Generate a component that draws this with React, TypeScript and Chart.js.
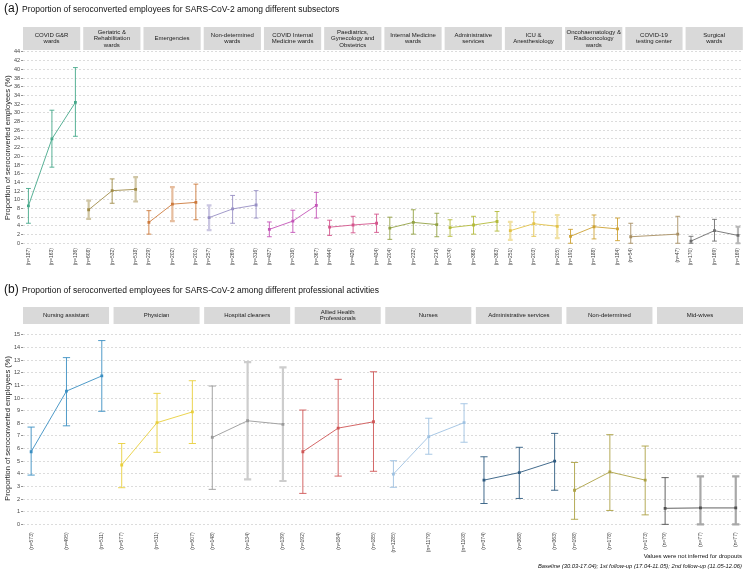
import React, { useEffect, useRef } from 'react';
import { Chart, registerables } from 'chart.js';

Chart.register(...registerables);

const FONT = '"Liberation Sans", Arial, Helvetica, sans-serif';

// ---------- Panel (a): subsectors ----------
const subsectorLabels = [
  'COVID G&R\nwards',
  'Geriatric &\nRehabilitation\nwards',
  'Emergencies',
  'Non-determined\nwards',
  'COVID Internal\nMedicine wards',
  'Paediatrics,\nGynecology and\nObstetrics',
  'Internal Medicine\nwards',
  'Administrative\nservices',
  'ICU &\nAnesthesiology',
  'Oncohaematology &\nRadiooncology\nwards',
  'COVID-19\ntesting center',
  'Surgical\nwards',
];
const subsectorColors = [
  '#45a88a', '#a08c4a', '#cd7a3c', '#978fc4', '#c455b8', '#d4558c',
  '#93a244', '#b3ba3a', '#e2c247', '#cda233', '#a88f62', '#6e6e6e',
];
const subsectorValues = [
  [8.6, 24.0, 32.4],
  [7.7, 12.1, 12.4],
  [4.8, 9.0, 9.4],
  [5.9, 7.9, 8.8],
  [3.2, 5.1, 8.7],
  [3.7, 4.2, 4.6],
  [3.5, 4.8, 4.3],
  [3.6, 4.2, 5.0],
  [2.9, 4.5, 3.9],
  [1.6, 3.8, 3.3],
  [1.5, null, 2.1],
  [0.5, 2.9, 1.8],
];
const subsectorLower = [
  [4.6, 17.5, 24.6],
  [5.6, 9.2, 9.6],
  [2.1, 5.1, 5.4],
  [3.0, 4.6, 5.8],
  [1.5, 2.5, 5.8],
  [1.8, 2.4, 2.5],
  [0.9, 2.1, 1.5],
  [1.6, 2.1, 2.8],
  [0.8, 1.6, 1.2],
  [0.0, 1.0, 0.6],
  [0.0, null, 0.0],
  [0.0, 0.5, 0.0],
];
const subsectorUpper = [
  [12.6, 30.6, 40.4],
  [9.8, 14.8, 15.2],
  [7.5, 12.9, 13.6],
  [8.7, 11.0, 12.1],
  [4.9, 7.6, 11.7],
  [5.3, 6.2, 6.7],
  [6.0, 7.7, 6.9],
  [5.4, 6.2, 7.3],
  [4.9, 7.2, 6.5],
  [3.2, 6.5, 5.8],
  [4.6, null, 6.2],
  [1.6, 5.5, 3.8],
];
const subsectorN = [
  [187, 163, 136],
  [608, 532, 518],
  [229, 202, 201],
  [257, 269, 316],
  [437, 316, 367],
  [444, 426, 434],
  [204, 232, 214],
  [374, 368, 363],
  [251, 203, 205],
  [191, 188, 184],
  [54, null, 47],
  [170, 169, 169],
];
const subsectorFaintBars = [
  [false, false, false],
  [true, false, true],
  [false, true, false],
  [true, false, false],
  [false, false, false],
  [false, false, false],
  [false, false, false],
  [false, false, false],
  [true, false, true],
  [false, false, false],
  [false, false, false],
  [false, false, true],
];
const yTicksA = [0, 2, 4, 6, 8, 10, 12, 14, 16, 18, 20, 22, 24, 26, 28, 30, 32, 34, 36, 38, 40, 42, 44];

// ---------- Panel (b): professional activities ----------
const professionLabels = [
  'Nursing assistant',
  'Physician',
  'Hospital cleaners',
  'Allied Health\nProfessionals',
  'Nurses',
  'Administrative services',
  'Non-determined',
  'Mid-wives',
];
const professionColors = [
  '#3b8fc2', '#e9cf3c', '#9a9a9a', '#cf5656', '#9fc2e2', '#2f5b80', '#ada244', '#505050',
];
const professionValues = [
  [5.75, 10.55, 11.75],
  [4.7, 8.05, 8.9],
  [6.88, 8.2, 7.92],
  [5.75, 7.62, 8.12],
  [3.98, 6.95, 8.05],
  [3.5, 4.1, 5.0],
  [2.7, 4.15, 3.5],
  [1.27, 1.3, 1.3],
];
const professionLower = [
  [3.9, 7.8, 8.95],
  [2.9, 5.7, 6.4],
  [2.77, 3.56, 3.43],
  [2.45, 3.82, 4.2],
  [2.93, 5.55, 6.5],
  [1.65, 2.05, 2.7],
  [0.4, 1.1, 0.75],
  [0, 0, 0],
];
const professionUpper = [
  [7.7, 13.2, 14.55],
  [6.4, 10.37, 11.37],
  [10.95, 12.85, 12.43],
  [9.05, 11.48, 12.08],
  [5.04, 8.4, 9.55],
  [5.35, 6.1, 7.2],
  [4.9, 7.1, 6.2],
  [3.7, 3.8, 3.8],
];
const professionN = [
  [573, 495, 511],
  [577, 511, 507],
  [148, 134, 139],
  [192, 184, 185],
  [1285, 1179, 1108],
  [374, 368, 363],
  [198, 178, 173],
  [79, 77, 77],
];
const professionFaintBars = [
  [false, false, false],
  [false, false, false],
  [false, true, true],
  [false, false, false],
  [false, false, false],
  [false, false, false],
  [false, false, false],
  [false, true, true],
];
const yTicksB = [0, 1, 2, 3, 4, 5, 6, 7, 8, 9, 10, 11, 12, 13, 14, 15];

// slot of each time point inside a facet band (fraction of facet pitch)
const SLOTS = [0.09, 0.48, 0.87];
const GAP = 0.05;

function lighten(hex: string, amt: number) {
  const n = parseInt(hex.slice(1), 16);
  const r = (n >> 16) & 255, g = (n >> 8) & 255, b = n & 255;
  const m = (c: number) => Math.round(c + (255 - c) * amt);
  return `rgb(${m(r)},${m(g)},${m(b)})`;
}

const facetPlugin = {
  id: 'facets',
  beforeDatasetsDraw(chart: any) {
    const o = chart.options.plugins.facets;
    const { ctx } = chart;
    const x = chart.scales.x;
    const y = chart.scales.y;
    const cap = x.getPixelForValue(o.capHalf) - x.getPixelForValue(0);
    ctx.save();
    chart.data.datasets.forEach((ds: any) => {
      ds.data.forEach((pt: any, j: number) => {
        const px = x.getPixelForValue(pt.x);
        const top = y.getPixelForValue(ds.hi[j]);
        const bot = y.getPixelForValue(ds.lo[j]);
        const faint = ds.faint[j];
        ctx.strokeStyle = faint ? ds.faintColor : ds.borderColor;
        ctx.lineWidth = faint ? 2.2 : 0.9;
        ctx.beginPath();
        ctx.moveTo(px, top);
        ctx.lineTo(px, bot);
        ctx.moveTo(px - cap, top);
        ctx.lineTo(px + cap, top);
        ctx.moveTo(px - cap, bot);
        ctx.lineTo(px + cap, bot);
        ctx.stroke();
      });
    });
    ctx.restore();
  },
  afterDraw(chart: any) {
    const o = chart.options.plugins.facets;
    const { ctx } = chart;
    const x = chart.scales.x;
    ctx.save();
    ctx.font = `${o.fontSize}px ${FONT}`;
    ctx.textAlign = 'center';
    ctx.textBaseline = 'middle';
    o.labels.forEach((lab: string, i: number) => {
      const x0 = x.getPixelForValue(i);
      const x1 = x.getPixelForValue(i + 1 - GAP);
      ctx.fillStyle = '#d9d9d9';
      ctx.fillRect(x0, o.stripTop, x1 - x0, o.stripBottom - o.stripTop);
      ctx.fillStyle = '#1a1a1a';
      const lines = lab.split('\n');
      const cy = (o.stripTop + o.stripBottom) / 2;
      const lh = o.fontSize * 1.08;
      lines.forEach((l, k) => {
        ctx.fillText(l, (x0 + x1) / 2, cy + (k - (lines.length - 1) / 2) * lh);
      });
    });
    ctx.restore();
  },
};

type PanelCfg = {
  labels: string[];
  colors: string[];
  values: (number | null)[][];
  lower: (number | null)[][];
  upper: (number | null)[][];
  ns: (number | null)[][];
  faint: boolean[][];
  yTicks: number[];
  yMin: number;
  yMax: number;
  padTop: number;
  xAxisHeight: number;
  stripTop: number;
  stripBottom: number;
};

function buildConfig(p: PanelCfg): any {
  const tickPos: number[] = [];
  const tickLab: string[] = [];
  const datasets = p.labels.map((lab, i) => {
    const data: any[] = [];
    const lo: number[] = [];
    const hi: number[] = [];
    const faint: boolean[] = [];
    p.values[i].forEach((v, j) => {
      if (v == null) return;
      const xv = i + SLOTS[j];
      data.push({ x: xv, y: v });
      lo.push(p.lower[i][j] as number);
      hi.push(p.upper[i][j] as number);
      faint.push(p.faint[i][j]);
      tickPos.push(xv);
      tickLab.push(`(n=${p.ns[i][j]})`);
    });
    const c = p.colors[i];
    return {
      label: lab.replace(/\n/g, ' '),
      data,
      lo,
      hi,
      faint,
      faintColor: lighten(c, 0.5),
      borderColor: c,
      backgroundColor: c,
      borderWidth: 0.9,
      pointStyle: 'rect',
      pointRadius: 2,
      pointBorderWidth: 0,
      pointBackgroundColor: c,
      tension: 0,
    };
  });
  const N = p.labels.length;
  return {
    type: 'line',
    data: { datasets },
    plugins: [facetPlugin],
    options: {
      responsive: false,
      animation: false,
      events: [],
      layout: { padding: { top: p.padTop, right: 4, bottom: 0, left: 0 } },
      plugins: {
        legend: { display: false },
        tooltip: { enabled: false },
        facets: {
          labels: p.labels,
          stripTop: p.stripTop,
          stripBottom: p.stripBottom,
          fontSize: 6,
          capHalf: 0.04,
        },
      },
      scales: {
        x: {
          type: 'linear',
          min: 0,
          max: N - GAP,
          grid: { display: false, drawTicks: false },
          border: { display: false },
          afterBuildTicks: (s: any) => {
            s.ticks = tickPos.map((v) => ({ value: v }));
          },
          afterFit: (s: any) => {
            s.height = p.xAxisHeight;
          },
          ticks: {
            autoSkip: false,
            minRotation: 90,
            maxRotation: 90,
            padding: 3,
            color: '#444',
            font: { size: 5, family: FONT },
            callback: (_v: any, idx: number) => tickLab[idx],
          },
        },
        y: {
          type: 'linear',
          min: p.yMin,
          max: p.yMax,
          afterBuildTicks: (s: any) => {
            s.ticks = p.yTicks.map((v) => ({ value: v }));
          },
          afterFit: (s: any) => {
            s.width = 23;
          },
          grid: {
            color: '#d4d4d4',
            lineWidth: 0.8,
            tickLength: 2,
            tickColor: '#777',
            tickWidth: 0.8,
            tickBorderDash: [],
          },
          border: { display: false, dash: [2, 2] },
          ticks: {
            autoSkip: false,
            color: '#444',
            padding: 1,
            font: { size: 5.5, family: FONT },
            callback: (v: any) => String(v),
          },
          title: {
            display: true,
            text: 'Proportion of seroconverted employees (%)',
            color: '#222',
            font: { size: 7.5, family: FONT },
            padding: { top: 3, bottom: 0 },
          },
        },
      },
    },
  };
}

function Panel({ cfg, top, height }: { cfg: PanelCfg; top: number; height: number }) {
  const ref = useRef<HTMLCanvasElement | null>(null);
  useEffect(() => {
    if (!ref.current) return;
    const chart = new Chart(ref.current, buildConfig(cfg));
    return () => chart.destroy();
  }, []);
  return (
    <canvas
      ref={ref}
      width={747}
      height={height}
      style={{ position: 'absolute', left: 0, top, width: 747, height, display: 'block' }}
    />
  );
}

const panelA: PanelCfg = {
  labels: subsectorLabels,
  colors: subsectorColors,
  values: subsectorValues,
  lower: subsectorLower,
  upper: subsectorUpper,
  ns: subsectorN,
  faint: subsectorFaintBars,
  yTicks: yTicksA,
  yMin: -0.4,
  yMax: 44.4,
  padTop: 50.2,
  xAxisHeight: 33,
  stripTop: 27,
  stripBottom: 50,
};

const panelB: PanelCfg = {
  labels: professionLabels,
  colors: professionColors,
  values: professionValues,
  lower: professionLower,
  upper: professionUpper,
  ns: professionN,
  faint: professionFaintBars,
  yTicks: yTicksB,
  yMin: -0.4,
  yMax: 15.6,
  padTop: 42.3,
  xAxisHeight: 42.6,
  stripTop: 22,
  stripBottom: 39,
};

export default function App() {
  Chart.defaults.font.family = FONT;
  return (
    <div
      style={{
        position: 'absolute',
        left: 0,
        top: 0,
        width: 747,
        height: 572,
        background: '#fff',
        fontFamily: FONT,
        color: '#111',
        overflow: 'hidden',
      }}
    >
      <Panel cfg={panelA} top={0} height={278} />
      <Panel cfg={panelB} top={285} height={287} />
      <div style={{ position: 'absolute', left: 4, top: 1, fontSize: 12, lineHeight: '14px' }}>(a)</div>
      <div style={{ position: 'absolute', left: 22, top: 4, fontSize: 8.5, lineHeight: '10px' }}>
        Proportion of seroconverted employees for SARS-CoV-2 among different subsectors
      </div>
      <div style={{ position: 'absolute', left: 4, top: 282, fontSize: 12, lineHeight: '14px' }}>(b)</div>
      <div style={{ position: 'absolute', left: 22, top: 285, fontSize: 8.5, lineHeight: '10px' }}>
        Proportion of seroconverted employees for SARS-CoV-2 among different professional activities
      </div>
      <div
        style={{ position: 'absolute', right: 5, top: 552, fontSize: 6, lineHeight: '8px', textAlign: 'right' }}
      >
        Values were not inferred for dropouts
      </div>
      <div
        style={{
          position: 'absolute',
          right: 5,
          top: 562,
          fontSize: 5.8,
          lineHeight: '8px',
          fontStyle: 'italic',
          textAlign: 'right',
          whiteSpace: 'nowrap',
        }}
      >
        Baseline (30.03-17.04); 1st follow-up (17.04-11.05); 2nd follow-up (11.05-12.06)
      </div>
    </div>
  );
}
